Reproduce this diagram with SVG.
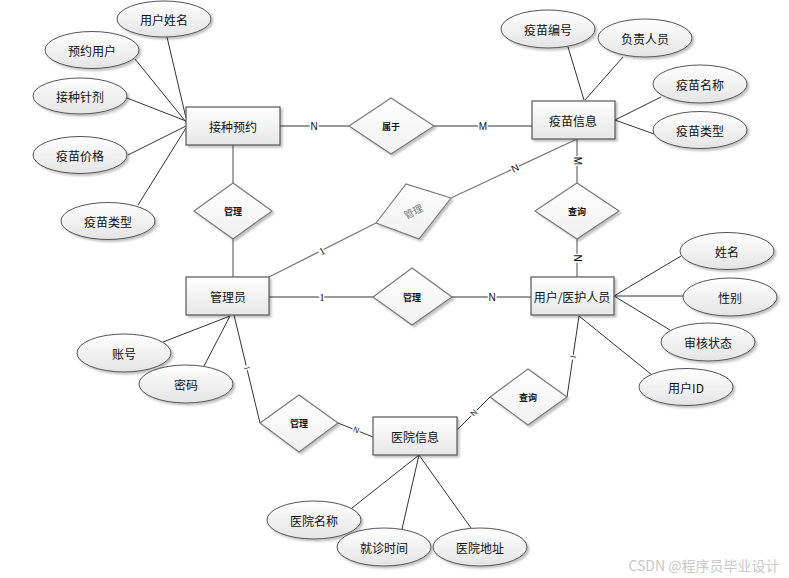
<svg xmlns="http://www.w3.org/2000/svg" width="789" height="578" viewBox="0 0 789 578">
<defs>
<linearGradient id="gE" x1="0" y1="0" x2="0" y2="1"><stop offset="0" stop-color="#ffffff"/><stop offset="1" stop-color="#e4e4e4"/></linearGradient>
<linearGradient id="gR" x1="0" y1="0" x2="0" y2="1"><stop offset="0" stop-color="#ffffff"/><stop offset="1" stop-color="#e6e6e6"/></linearGradient>
<linearGradient id="gD" x1="0" y1="0" x2="0" y2="1"><stop offset="0" stop-color="#ffffff"/><stop offset="1" stop-color="#f0f0f0"/></linearGradient>
<filter id="sh" x="-20%" y="-20%" width="150%" height="150%"><feDropShadow dx="2" dy="2" stdDeviation="1" flood-color="#000" flood-opacity="0.25"/></filter>
</defs>
<style>
.ent rect{fill:url(#gR);stroke:#555;stroke-width:1.2;filter:url(#sh)}
.att ellipse{fill:url(#gE);stroke:#555;stroke-width:1;filter:url(#sh)}
.rel polygon{fill:url(#gD);stroke:#777;stroke-width:1.1;filter:url(#sh)}
text{font-family:"Noto Sans CJK SC","Liberation Sans",sans-serif;text-anchor:middle;dominant-baseline:central;fill:#111}
.et{font-size:12px}
.at{font-size:12px}
.rt{font-size:9px;font-weight:bold}
.lk{stroke:#777;stroke-width:1.3;fill:none}
.al{stroke:#333;stroke-width:1;fill:none}
.lb{font-family:"Liberation Sans",sans-serif;font-size:10px;stroke:#fff;stroke-width:3;paint-order:stroke;fill:#111}
.lb1{font-family:"Liberation Serif",serif;font-size:11px;stroke:#fff;stroke-width:3;paint-order:stroke;fill:#111}
</style>
<g id="connectors">
<line class="al" x1="167" y1="37" x2="186" y2="118"/>
<line class="al" x1="135" y1="59" x2="186" y2="122"/>
<line class="al" x1="127" y1="98" x2="186" y2="121"/>
<line class="al" x1="128" y1="155" x2="186" y2="126"/>
<line class="al" x1="138" y1="205" x2="186" y2="128"/>
<line class="al" x1="568" y1="47" x2="584" y2="100"/>
<line class="al" x1="623" y1="57" x2="585" y2="100"/>
<line class="al" x1="661" y1="97" x2="615" y2="120"/>
<line class="al" x1="615" y1="120" x2="654" y2="134"/>
<line class="al" x1="614" y1="296" x2="681" y2="256"/>
<line class="al" x1="614" y1="296" x2="683" y2="296"/>
<line class="al" x1="614" y1="296" x2="670" y2="330"/>
<line class="al" x1="579" y1="316" x2="652" y2="375"/>
<line class="al" x1="163" y1="342" x2="230" y2="316"/>
<line class="al" x1="204" y1="366" x2="230" y2="316"/>
<line class="al" x1="352" y1="508" x2="419" y2="455"/>
<line class="al" x1="402" y1="529" x2="419" y2="455"/>
<line class="al" x1="471" y1="528" x2="419" y2="455"/>
<line class="lk" x1="280" y1="126" x2="349" y2="126"/>
<line class="lk" x1="434" y1="126" x2="532" y2="126"/>
<line class="lk" x1="233" y1="145" x2="233" y2="183"/>
<line class="lk" x1="233" y1="239" x2="233" y2="277"/>
<line class="lk" x1="269" y1="277" x2="376" y2="223"/>
<line class="lk" x1="451" y1="198" x2="577" y2="139"/>
<line class="lk" x1="577" y1="139" x2="577" y2="183"/>
<line class="lk" x1="577" y1="239" x2="577" y2="277"/>
<line class="lk" x1="269" y1="297" x2="373" y2="297"/>
<line class="lk" x1="452" y1="297" x2="531" y2="297"/>
<line class="al" x1="234" y1="315" x2="260" y2="423"/>
<line class="al" x1="338" y1="423" x2="373" y2="437"/>
<line class="al" x1="457" y1="430" x2="490" y2="397"/>
<line class="al" x1="567" y1="397" x2="579" y2="316"/>
<text class="lb" x="314" y="126">N</text>
<text class="lb" x="483" y="126">M</text>
<text class="lb1" x="322" y="251" transform="rotate(-27 322 251)">1</text>
<text class="lb" x="515" y="168" transform="rotate(-25 515 168)">N</text>
<text class="lb" x="577" y="161" transform="rotate(90 577 161)">M</text>
<text class="lb" x="577" y="258" transform="rotate(90 577 258)">N</text>
<text class="lb1" x="322" y="297">1</text>
<text class="lb" x="492" y="297">N</text>
<text class="lb1" x="247" y="368" transform="rotate(76 247 368)" style="font-size:8px">1</text>
<text class="lb" x="356" y="430" transform="rotate(22 356 430)" style="font-size:8px">N</text>
<text class="lb" x="474" y="413" transform="rotate(-45 474 413)" style="font-size:8px">N</text>
<text class="lb1" x="573" y="357" transform="rotate(-81 573 357)" style="font-size:8px">1</text>
</g>
<g id="e-jiezhong" class="ent"><rect x="186" y="107" width="94" height="38"/><text class="et" x="233" y="126">接种预约</text></g>
<g id="e-yimiao" class="ent"><rect x="532" y="101" width="83" height="38"/><text class="et" x="573" y="120">疫苗信息</text></g>
<g id="e-guanli" class="ent"><rect x="186" y="277" width="83" height="38"/><text class="et" x="228" y="296">管理员</text></g>
<g id="e-yonghu" class="ent"><rect x="531" y="277" width="83" height="38"/><text class="et" x="572" y="296">用户/医护人员</text></g>
<g id="e-yiyuan" class="ent"><rect x="373" y="417" width="84" height="38"/><text class="et" x="415" y="436">医院信息</text></g>
<g id="r-shuyu" class="rel"><polygon points="349,126 391,98 434,126 391,154"/><text class="rt" x="391" y="126">属于</text></g>
<g id="r-guanli1" class="rel"><polygon points="194,211 233,183 272,211 233,239"/><text class="rt" x="233" y="211">管理</text></g>
<g id="r-guanli2" class="rel"><polygon points="376,223 406,184 451,198 419,239"/><text x="413" y="211" transform="rotate(-27 413 211)" style="font-size:10px;fill:#777">管理</text></g>
<g id="r-chaxun1" class="rel"><polygon points="535,211 577,183 619,211 577,239"/><text class="rt" x="577" y="211">查询</text></g>
<g id="r-guanli3" class="rel"><polygon points="373,297 412,268 452,297 412,325"/><text class="rt" x="412" y="297">管理</text></g>
<g id="r-guanli4" class="rel"><polygon points="260,423 299,395 338,423 299,452"/><text class="rt" x="299" y="423">管理</text></g>
<g id="r-chaxun2" class="rel"><polygon points="490,397 528,369 567,397 528,425"/><text class="rt" x="528" y="397">查询</text></g>
<g id="a-yhxm" class="att"><ellipse cx="164" cy="19" rx="47" ry="18"/><text class="at" x="164" y="19">用户姓名</text></g>
<g id="a-yyyh" class="att"><ellipse cx="92" cy="50" rx="47" ry="18.5"/><text class="at" x="92" y="50">预约用户</text></g>
<g id="a-jzzj" class="att"><ellipse cx="80" cy="96" rx="47" ry="18"/><text class="at" x="80" y="96">接种针剂</text></g>
<g id="a-ymjg" class="att"><ellipse cx="80" cy="155" rx="47" ry="18.5"/><text class="at" x="80" y="155">疫苗价格</text></g>
<g id="a-ymlx1" class="att"><ellipse cx="108" cy="221" rx="47" ry="18.5"/><text class="at" x="108" y="221">疫苗类型</text></g>
<g id="a-ymbh" class="att"><ellipse cx="548" cy="29" rx="47" ry="19"/><text class="at" x="548" y="29">疫苗编号</text></g>
<g id="a-fzry" class="att"><ellipse cx="645" cy="38" rx="47" ry="19"/><text class="at" x="645" y="38">负责人员</text></g>
<g id="a-ymmc" class="att"><ellipse cx="700" cy="84" rx="47" ry="19"/><text class="at" x="700" y="84">疫苗名称</text></g>
<g id="a-ymlx2" class="att"><ellipse cx="700" cy="130" rx="47" ry="18.5"/><text class="at" x="700" y="130">疫苗类型</text></g>
<g id="a-xm" class="att"><ellipse cx="727" cy="251" rx="47" ry="18.5"/><text class="at" x="727" y="251">姓名</text></g>
<g id="a-xb" class="att"><ellipse cx="730" cy="297" rx="47" ry="19"/><text class="at" x="730" y="297">性别</text></g>
<g id="a-shzt" class="att"><ellipse cx="708" cy="342" rx="47" ry="19"/><text class="at" x="708" y="342">审核状态</text></g>
<g id="a-yhid" class="att"><ellipse cx="686" cy="387" rx="47" ry="18.5"/><text class="at" x="686" y="387">用户ID</text></g>
<g id="a-zh" class="att"><ellipse cx="124" cy="353" rx="47" ry="19"/><text class="at" x="124" y="353">账号</text></g>
<g id="a-mm" class="att"><ellipse cx="186" cy="384" rx="47" ry="19"/><text class="at" x="186" y="384">密码</text></g>
<g id="a-yymc" class="att"><ellipse cx="314" cy="520" rx="47" ry="19"/><text class="at" x="314" y="520">医院名称</text></g>
<g id="a-jzsj" class="att"><ellipse cx="384" cy="547" rx="47" ry="19"/><text class="at" x="384" y="547">就诊时间</text></g>
<g id="a-yydz" class="att"><ellipse cx="480" cy="547" rx="47" ry="19"/><text class="at" x="480" y="547">医院地址</text></g>
<text x="704" y="565" style="font-size:14px;fill:#c8c8c8">CSDN @程序员毕业设计</text>
</svg>
